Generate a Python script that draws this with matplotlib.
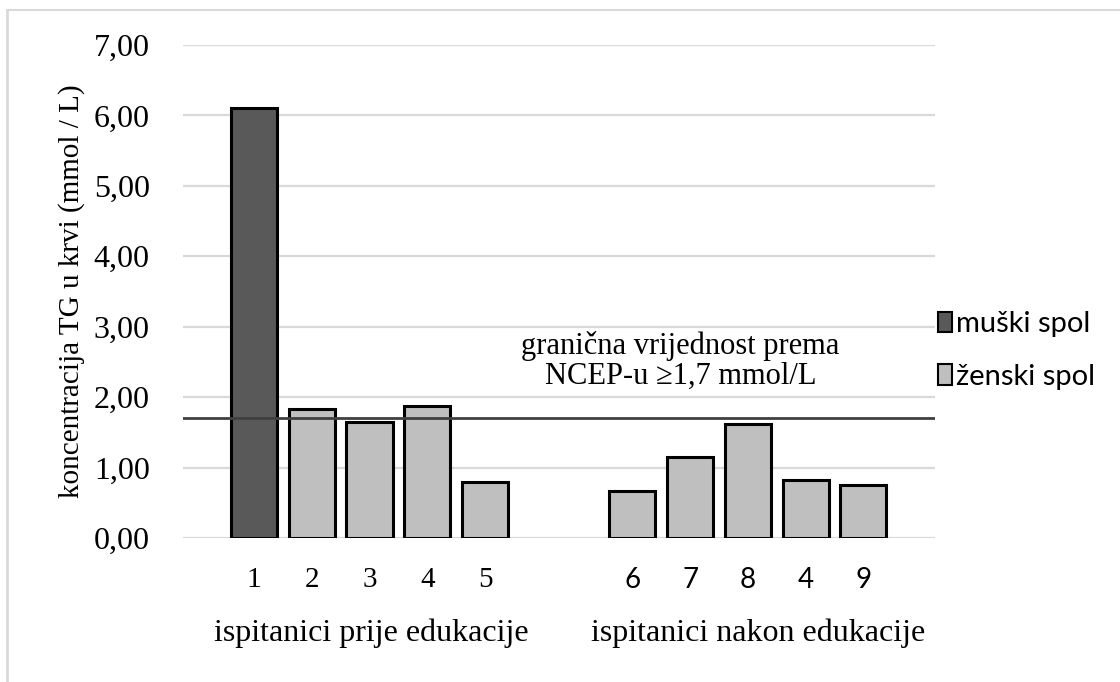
import numpy as np
import matplotlib.pyplot as plt
from matplotlib.lines import Line2D
from matplotlib.patches import Patch

# TG koncentracija po ispitaniku
labels_before = ['1', '2', '3', '4', '5']
labels_after = ['6', '7', '8', '4', '9']
tg_before = [6.10, 1.83, 1.65, 1.87, 0.80]
tg_after = [0.67, 1.15, 1.62, 0.82, 0.75]
sex_before = ['m', 'z', 'z', 'z', 'z']
sex_after = ['z', 'z', 'z', 'z', 'z']
threshold = 1.7
yticks = [0, 1, 2, 3, 4, 5, 6, 7]

dark = '#595959'
light = '#bfbfbf'
serif = 'Liberation Serif'
sans = 'Lato'

fig = plt.figure(figsize=(11.2, 6.82), dpi=100)
ax = fig.add_axes([0.1634, 0.2111, 0.6714, 0.7229])

x_before = np.arange(len(tg_before))
x_after = np.arange(len(tg_after)) + len(tg_before) + 1.55
xs = np.concatenate([x_before, x_after])
vals = tg_before + tg_after
sexes = sex_before + sex_after
colors = [dark if s == 'm' else light for s in sexes]

ax.bar(xs, vals, width=0.8, color=colors, edgecolor='black', linewidth=2.2, zorder=3)
ax.axhline(threshold, color='#404040', linewidth=2, zorder=4)

ax.set_xlim(-1.23, 11.79)
ax.set_ylim(0, 7)
ax.set_yticks(yticks)
ax.set_yticklabels([f'{v:.2f}'.replace('.', ',') for v in yticks],
                   fontfamily=serif, fontsize=23)
ax.yaxis.grid(True, color='#d9d9d9', linewidth=1.6, zorder=0)
ax.set_axisbelow(True)
ax.tick_params(axis='y', length=0, pad=24)
ax.tick_params(axis='x', length=0, pad=21)
for s in ax.spines.values():
    s.set_visible(False)

ax.set_xticks(xs)
ax.set_xticklabels(labels_before + labels_after)
for i, t in enumerate(ax.get_xticklabels()):
    if i < len(labels_before):
        t.set_fontfamily(serif)
        t.set_fontsize(21)
    else:
        t.set_fontfamily(sans)
        t.set_fontsize(20)

ax.set_ylabel('koncentracija TG u krvi (mmol / L)', fontfamily=serif,
              fontsize=21, labelpad=6)

# oznake grupa ispod osi
ax.text(2.03, -1.35, 'ispitanici prije edukacije', ha='center',
        va='center', fontfamily=serif, fontsize=23)
ax.text(8.73, -1.35, 'ispitanici nakon edukacije', ha='center',
        va='center', fontfamily=serif, fontsize=23)

ax.text(7.38, 2.51, 'granična vrijednost prema\nNCEP-u ≥1,7 mmol/L',
        ha='center', va='center', fontfamily=serif, fontsize=22, linespacing=1.05)

handles = [Patch(facecolor=dark, edgecolor='black', linewidth=1.5),
           Patch(facecolor=light, edgecolor='black', linewidth=1.5)]
fig.legend(handles, ['muški spol', 'ženski spol'], loc='center left',
           bbox_to_anchor=(0.827, 0.486), frameon=False,
           prop={'family': sans, 'size': 21}, handlelength=0.5,
           handleheight=0.7, handletextpad=0.12, labelspacing=0.9,
           borderaxespad=0)

# okvir oko slike
fig.add_artist(Line2D([0.0065, 0.0065], [0, 0.986], color='#d9d9d9',
                      linewidth=2, transform=fig.transFigure))
fig.add_artist(Line2D([0.0065, 1], [0.986, 0.986], color='#d9d9d9',
                      linewidth=1.5, transform=fig.transFigure))

fig.savefig('out.png', dpi=100)
